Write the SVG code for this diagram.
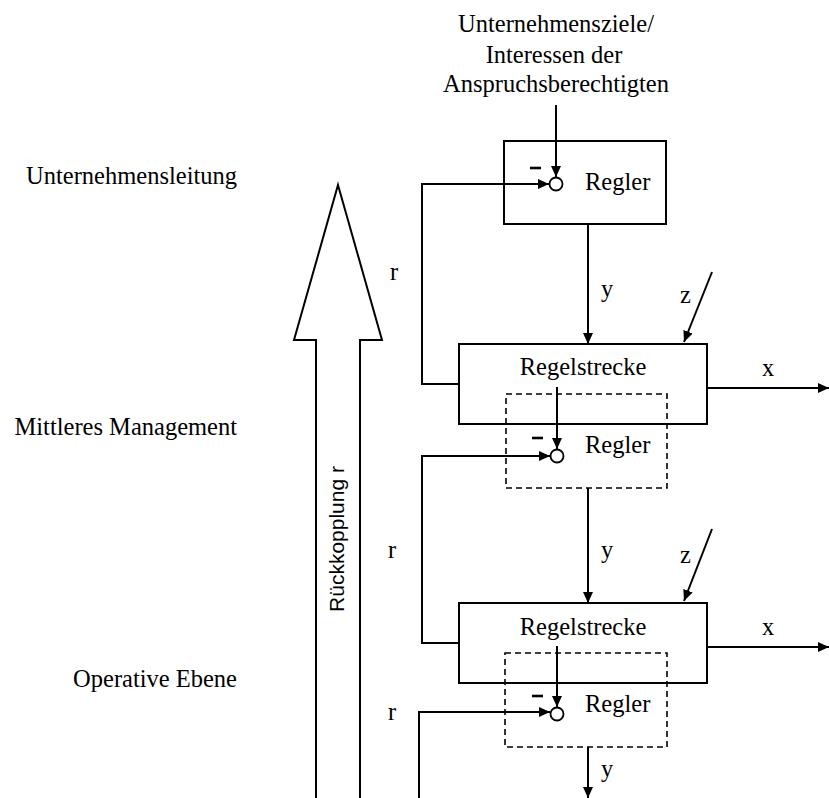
<svg xmlns="http://www.w3.org/2000/svg" width="829" height="798" viewBox="0 0 829 798">
  <defs>
    <marker id="ah" markerUnits="userSpaceOnUse" markerWidth="11" markerHeight="10" refX="11" refY="5" orient="auto">
      <path d="M0,0 L11,5 L0,10 z" fill="#000"/>
    </marker>
    <style>
      .serif { font-family: "Liberation Serif", "Times New Roman", serif; font-size: 24.5px; fill: #000; }
      .sans { font-family: "Liberation Sans", Arial, sans-serif; font-size: 21px; fill: #000; }
      .box { fill: #fff; stroke: #000; stroke-width: 2; }
      .dbox { fill: none; stroke: #000; stroke-width: 1.6; stroke-dasharray: 6 4; }
      .sum { fill: #fff; stroke: #000; stroke-width: 1.8; }
      .wire { fill: none; stroke: #000; stroke-width: 2; }
      .arrow { fill: none; stroke: #000; stroke-width: 2; marker-end: url(#ah); }
      .minus { stroke: #000; stroke-width: 2.6; }
    </style>
  </defs>
  <rect width="829" height="798" fill="#fff"/>

  <!-- level labels -->
  <g id="levels">
    <text class="serif" x="237" y="184" text-anchor="end">Unternehmensleitung</text>
    <text class="serif" x="237" y="435" text-anchor="end">Mittleres Management</text>
    <text class="serif" x="237" y="687" text-anchor="end">Operative Ebene</text>
  </g>

  <!-- large feedback arrow -->
  <g id="feedback-arrow">
    <polygon points="338,185 382,340 360,340 360,800 316,800 316,340 294,340" fill="#fff" stroke="#000" stroke-width="2" stroke-linejoin="miter"/>
    <text class="sans" transform="translate(344,539) rotate(-90)" text-anchor="middle">Rückkopplung r</text>
  </g>

  <!-- goals input -->
  <g id="goals">
    <text class="serif" x="556" y="32" text-anchor="middle">Unternehmensziele/</text>
    <text class="serif" x="554" y="63" text-anchor="middle">Interessen der</text>
    <text class="serif" x="556" y="92" text-anchor="middle">Anspruchsberechtigten</text>
  </g>

  <!-- top controller -->
  <g id="regler-1">
    <rect class="box" x="504" y="141" width="162" height="83"/>
    <text class="serif" x="585" y="190">Regler</text>
  </g>

  <!-- middle: plant and embedded controller -->
  <g id="regelstrecke-1">
    <rect class="box" x="459" y="344" width="248" height="80"/>
    <text class="serif" x="583" y="375" text-anchor="middle">Regelstrecke</text>
  </g>
  <g id="regler-2">
    <rect class="dbox" x="506" y="394" width="161" height="94"/>
    <text class="serif" x="585" y="453">Regler</text>
  </g>

  <!-- lower: plant and embedded controller -->
  <g id="regelstrecke-2">
    <rect class="box" x="459" y="603" width="248" height="80"/>
    <text class="serif" x="583" y="635" text-anchor="middle">Regelstrecke</text>
  </g>
  <g id="regler-3">
    <rect class="dbox" x="505" y="653" width="162" height="94"/>
    <text class="serif" x="585" y="712">Regler</text>
  </g>

  <!-- connectors -->
  <g id="connectors">
    <path class="arrow" d="M556,105 V177"/>
    <path class="arrow" d="M459,384 H422 V184 H549"/>
    <path class="arrow" d="M588,224 V344"/>
    <path class="arrow" d="M712,272 L684,342"/>
    <path class="arrow" d="M707,388 H829"/>
    <path class="arrow" d="M557,387 V449"/>

    <path class="arrow" d="M459,643 H422 V456 H550"/>
    <path class="arrow" d="M588,488 V603"/>
    <path class="arrow" d="M712,529 L684,601"/>
    <path class="arrow" d="M707,647 H829"/>
    <path class="arrow" d="M557,646 V707"/>

    <path class="arrow" d="M419,800 V712 H550"/>
    <path class="arrow" d="M588,747 V798"/>
  </g>

  <!-- summing points with negative feedback sign -->
  <g id="summing-points">
    <circle class="sum" cx="556" cy="184" r="6.5"/>
    <line class="minus" x1="530" y1="168" x2="541" y2="168"/>
    <circle class="sum" cx="557" cy="456" r="6.5"/>
    <line class="minus" x1="532" y1="438" x2="543" y2="438"/>
    <circle class="sum" cx="557" cy="714" r="6.5"/>
    <line class="minus" x1="532" y1="696" x2="543" y2="696"/>
  </g>

  <!-- signal labels -->
  <g id="signal-labels">
    <text class="serif" x="390" y="280">r</text>
    <text class="serif" x="388" y="558">r</text>
    <text class="serif" x="388" y="720">r</text>
    <text class="serif" x="601" y="297">y</text>
    <text class="serif" x="601" y="558">y</text>
    <text class="serif" x="601" y="777">y</text>
    <text class="serif" x="680" y="303">z</text>
    <text class="serif" x="680" y="563">z</text>
    <text class="serif" x="762" y="376">x</text>
    <text class="serif" x="762" y="635">x</text>
  </g>
</svg>
